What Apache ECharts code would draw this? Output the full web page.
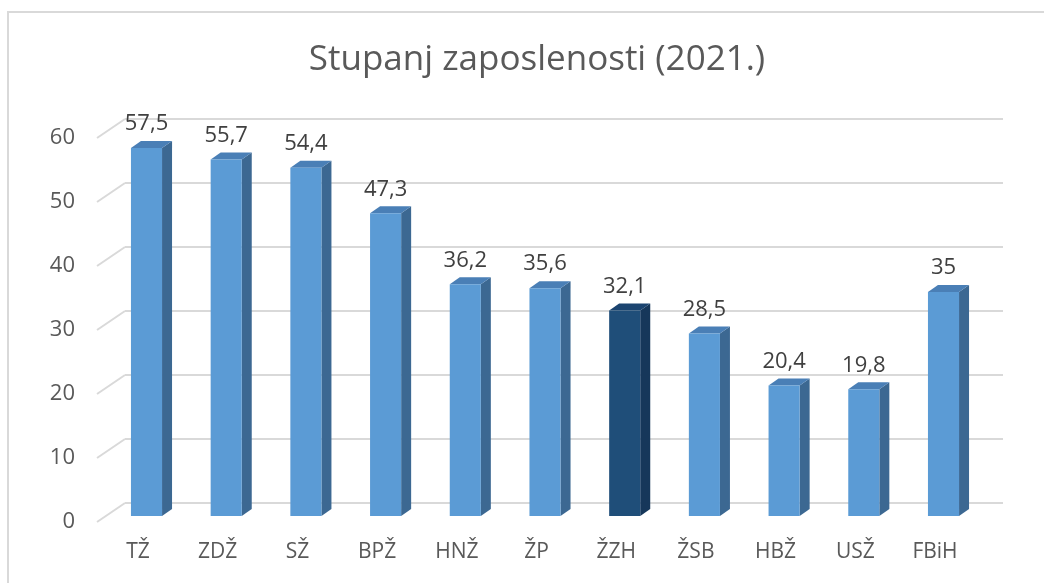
<!DOCTYPE html>
<html>
<head>
<meta charset="utf-8">
<script src="https://cdn.jsdelivr.net/npm/echarts@6/dist/echarts.min.js"></script>
<style>
  html, body { margin: 0; padding: 0; background: #ffffff; }
  #chart { width: 1044px; height: 583px; }
</style>
</head>
<body>
<div id="chart"></div>
<script>
// Employment rate by canton, 2021
const categories = ['TŽ', 'ZDŽ', 'SŽ', 'BPŽ', 'HNŽ', 'ŽP', 'ŽZH', 'ŽSB', 'HBŽ', 'USŽ', 'FBiH'];
const values = [57.5, 55.7, 54.4, 47.3, 36.2, 35.6, 32.1, 28.5, 20.4, 19.8, 35];
const yTicks = [0, 10, 20, 30, 40, 50, 60];
const highlighted = ['ŽZH'];
const titleText = 'Stupanj zaposlenosti (2021.)';

const FONT = '"Open Sans", "Noto Sans", sans-serif';
const AXIS_GREY = '#595959';
const GRID_GREY = '#d9d9d9';

// face colours of the 3D columns: front, right side, top
const normalFaces = { front: '#5b9bd5', side: '#3c6892', top: '#4a7fb6' };
const accentFaces = { front: '#1f4e79', side: '#16375a', top: '#1b4470' };

// depth of a column (side face shift)
const DEPTH_X = 10, DEPTH_Y = -7;
// floor depth of the wall grid (front edge relative to back wall)
const FLOOR_X = -28, FLOOR_Y = 19;

const fmt = v => String(v).replace('.', ',');

function renderColumn(params, api) {
  const idx = api.value(0);
  const v = api.value(1);
  const base = api.coord([idx, 0]);
  const top = api.coord([idx, v]);
  const w = api.size([1, 0])[0] * 0.39;
  const x0 = base[0] - w / 2, x1 = base[0] + w / 2;
  const faces = highlighted.includes(categories[idx]) ? accentFaces : normalFaces;
  return {
    type: 'group',
    children: [
      { type: 'polygon', shape: { points: [[x1, base[1]], [x1 + DEPTH_X, base[1] + DEPTH_Y], [x1 + DEPTH_X, top[1] + DEPTH_Y], [x1, top[1]]] },
        style: { fill: faces.side } },
      { type: 'polygon', shape: { points: [[x0, top[1]], [x0 + DEPTH_X, top[1] + DEPTH_Y], [x1 + DEPTH_X, top[1] + DEPTH_Y], [x1, top[1]]] },
        style: { fill: faces.top } },
      { type: 'rect', shape: { x: x0, y: top[1], width: w, height: base[1] - top[1] },
        style: { fill: faces.front } },
      { type: 'text', style: { text: fmt(v), x: base[0], y: top[1] - 24, align: 'center', verticalAlign: 'middle',
        font: '22px ' + FONT, fill: '#404040' } }
    ]
  };
}

// slanted floor lines joining the back wall grid to the front edge
function renderFloorLine(params, api) {
  const p = api.coord([0, api.value(0)]);
  return {
    type: 'line',
    shape: { x1: p[0], y1: p[1], x2: p[0] + FLOOR_X, y2: p[1] + FLOOR_Y },
    style: { stroke: GRID_GREY, lineWidth: 2 }
  };
}

const chart = echarts.init(document.getElementById('chart'), null, { renderer: 'canvas' });

chart.setOption({
  backgroundColor: '#ffffff',
  animation: false,
  title: {
    text: titleText,
    left: 532,
    top: 38,
    textAlign: 'center',
    textStyle: { fontFamily: FONT, fontSize: 35, fontWeight: 'normal', color: AXIS_GREY }
  },
  graphic: [{
    type: 'rect',
    shape: { x: 8, y: 12, width: 1100, height: 620 },
    style: { fill: 'none', stroke: GRID_GREY, lineWidth: 2 },
    silent: true,
    z: -1
  }],
  grid: [
    // column plane
    { left: 106.65, top: 132, width: 876.7, height: 384 },
    // back wall
    { left: 125, top: 119, width: 878, height: 384 },
    // front edge where the value labels sit
    { left: 97, top: 138, width: 20, height: 384 }
  ],
  xAxis: [
    { gridIndex: 0, type: 'category', data: categories,
      axisLine: { show: false }, axisTick: { show: false },
      axisLabel: { fontFamily: FONT, fontSize: 21, color: AXIS_GREY, margin: 26, padding: [0, 17, 0, 0] } },
    { gridIndex: 1, type: 'value', min: 0, max: 1, show: false },
    { gridIndex: 2, type: 'value', min: 0, max: 1, show: false }
  ],
  yAxis: [
    { gridIndex: 0, type: 'value', min: 0, max: 60, interval: 10, show: false },
    { gridIndex: 1, type: 'value', min: 0, max: 60, interval: 10,
      axisLine: { show: false }, axisTick: { show: false }, axisLabel: { show: false },
      splitLine: { show: true, lineStyle: { color: GRID_GREY, width: 2 } } },
    { gridIndex: 2, type: 'value', min: 0, max: 60, interval: 10,
      axisLine: { show: false }, axisTick: { show: false }, splitLine: { show: false },
      axisLabel: { fontFamily: FONT, fontSize: 22, color: AXIS_GREY, margin: 22 } }
  ],
  series: [
    {
      type: 'custom',
      xAxisIndex: 1, yAxisIndex: 1,
      renderItem: renderFloorLine,
      data: yTicks.map(v => [v]),
      encode: { y: 0 },
      silent: true,
      z: 1
    },
    {
      type: 'custom',
      xAxisIndex: 0, yAxisIndex: 0,
      renderItem: renderColumn,
      data: values.map((v, i) => [i, v]),
      encode: { x: 0, y: 1 },
      z: 3
    }
  ]
});
</script>
</body>
</html>
